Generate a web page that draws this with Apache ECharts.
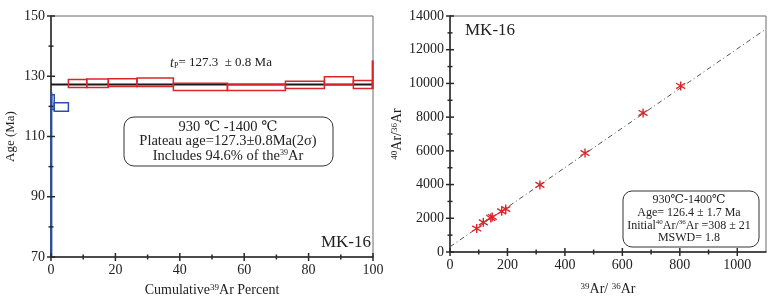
<!DOCTYPE html>
<html>
<head>
<meta charset="utf-8">
<script src="https://cdn.jsdelivr.net/npm/echarts@6/dist/echarts.min.js"></script>
<style>
  html, body { margin: 0; background: #fff; }
  #chart { width: 782px; height: 302px; }
</style>
</head>
<body>
<div id="chart"></div>
<script>
// 坪年龄阶梯: 累计39Ar百分比起止 + 年龄误差上下限(Ma)
const stepStart = [0, 0.2, 1.0, 5.4, 11.1, 17.8, 26.7, 38.0, 54.8, 72.8, 84.9, 93.9, 99.8];
const stepEnd   = [0.2, 1.0, 5.4, 11.1, 17.8, 26.7, 38.0, 54.8, 72.8, 84.9, 93.9, 99.8, 100];
const ageLow    = [40, 119.0, 118.4, 126.3, 126.3, 126.6, 126.6, 125.3, 125.3, 125.9, 127.2, 125.9, 126.0];
const ageHigh   = [124.5, 123.9, 121.2, 128.9, 129.1, 129.2, 129.4, 127.7, 127.3, 128.3, 129.8, 128.6, 135.0];
const inPlateau = [0, 0, 0, 1, 1, 1, 1, 1, 1, 1, 1, 1, 1];
const plateauAge = 127.3;

// 反等时线数据
const ar39ar36 = [93, 116, 142, 147, 180, 194, 313, 470, 672, 803];
const ar40ar36 = [1390, 1760, 2020, 2080, 2410, 2550, 3980, 5870, 8250, 9850];
const isoLineX = [0, 1100];
const isoLineY = [308, 13230];

// 刻度位置 (主刻度带标签)
const pctTicks = [0, 10, 20, 30, 40, 50, 60, 70, 80, 90, 100];
const ageTicks = [70, 80, 90, 100, 110, 120, 130, 140, 150];
const r39Ticks = [0, 100, 200, 300, 400, 500, 600, 700, 800, 900, 1000];
const r40Ticks = [0, 1000, 2000, 3000, 4000, 5000, 6000, 7000, 8000, 9000, 10000, 11000, 12000, 13000, 14000];

const RED = '#d8262b';
const BLUE = '#2b4fa8';
const AXIS = '#2a2a2a';
const SERIF = '"Liberation Serif", "DejaVu Serif", serif';

const chart = echarts.init(document.getElementById('chart'));

const stepData = stepStart.map((s, i) => [s, stepEnd[i], ageLow[i], ageHigh[i], inPlateau[i]]);

function mkAxis(extra, labelStep, labelFrom, labelMax) {
    const base = {
        axisLine: { show: true, lineStyle: { color: AXIS, width: 1.5 } },
        axisTick: { show: false },
        axisLabel: {
            color: '#222', fontFamily: SERIF, fontSize: 14, margin: 6,
            formatter: v => ((v - labelFrom) % labelStep === 0 && v <= labelMax) ? String(v) : ''
        },
        splitLine: { show: false }
    };
    return Object.assign(base, extra);
}

// v6 下轴刻度画不出来, 改用 custom 系列按轴坐标画十字刻度
function tickSeries(xi, yi, values, along, fixed, step, from) {
    return {
        type: 'custom', xAxisIndex: xi, yAxisIndex: yi, z: 5, silent: true,
        data: values.map(v => along === 'x' ? [v, fixed] : [fixed, v]),
        renderItem: function (params, api) {
            const p = api.coord([api.value(0), api.value(1)]);
            const v = along === 'x' ? api.value(0) : api.value(1);
            const len = ((v - from) % step === 0) ? 4 : 2.5;
            const shape = along === 'x'
                ? { x1: p[0], y1: p[1] - len, x2: p[0], y2: p[1] + len }
                : { x1: p[0] - len, y1: p[1], x2: p[0] + len, y2: p[1] };
            return { type: 'line', shape: shape, style: { stroke: AXIS, lineWidth: 1.5 } };
        }
    };
}

const sup = { fontSize: 9, verticalAlign: 'top', fontFamily: SERIF, color: '#222' };

const option = {
    animation: false,
    grid: [
        { left: 51, right: 409, top: 16, bottom: 45, show: true, borderColor: '#6a6a6a', borderWidth: 1 },
        { left: 450, right: 16, top: 16, bottom: 50, show: true, borderColor: '#6a6a6a', borderWidth: 1 }
    ],
    xAxis: [
        mkAxis({
            type: 'value', gridIndex: 0, min: 0, max: 100, interval: 20,
            name: 'Cumulative{s|39}Ar Percent', nameLocation: 'middle', nameGap: 26,
            nameTextStyle: { fontFamily: SERIF, fontSize: 14, color: '#222', rich: { s: sup } }
        }, 20, 0, 100),
        mkAxis({
            type: 'value', gridIndex: 1, min: 0, max: 1100, interval: 200,
            name: '{s|39}Ar/ {s|36}Ar', nameLocation: 'middle', nameGap: 30,
            nameTextStyle: { fontFamily: SERIF, fontSize: 14, color: '#222', rich: { s: sup } }
        }, 200, 0, 1000)
    ],
    yAxis: [
        mkAxis({
            type: 'value', gridIndex: 0, min: 70, max: 150, interval: 20,
            name: 'Age (Ma)', nameLocation: 'middle', nameGap: 34,
            nameTextStyle: { fontFamily: SERIF, fontSize: 13, color: '#222' }
        }, 20, 70, 150),
        mkAxis({
            type: 'value', gridIndex: 1, min: 0, max: 14000, interval: 2000,
            name: '{s|40}Ar/{s|36}Ar', nameLocation: 'middle', nameGap: 46,
            nameTextStyle: { fontFamily: SERIF, fontSize: 14, color: '#222', rich: { s: sup } }
        }, 2000, 0, 14000)
    ],
    series: [
        {
            type: 'line', xAxisIndex: 0, yAxisIndex: 0, symbol: 'none', z: 1,
            lineStyle: { color: '#1a1a1a', width: 2 },
            data: [[0, plateauAge], [100, plateauAge]]
        },
        {
            type: 'custom', xAxisIndex: 0, yAxisIndex: 0, z: 3,
            data: stepData,
            renderItem: function (params, api) {
                const p0 = api.coord([api.value(0), api.value(3)]);
                const p1 = api.coord([api.value(1), api.value(2)]);
                const rect = echarts.graphic.clipRectByRect(
                    { x: p0[0], y: p0[1], width: p1[0] - p0[0], height: p1[1] - p0[1] },
                    { x: params.coordSys.x, y: params.coordSys.y - 20, width: params.coordSys.width, height: params.coordSys.height + 20 }
                );
                if (!rect) return;
                return {
                    type: 'rect', shape: rect,
                    style: { fill: 'none', stroke: api.value(4) ? RED : BLUE, lineWidth: 1.5 }
                };
            }
        },
        {
            type: 'line', xAxisIndex: 1, yAxisIndex: 1, symbol: 'none', z: 1,
            lineStyle: { color: '#555', width: 1, type: [5, 3, 1, 3] },
            data: isoLineX.map((x, i) => [x, isoLineY[i]])
        },
        {
            type: 'scatter', xAxisIndex: 1, yAxisIndex: 1, z: 3,
            symbol: 'path://M0,-5L0,5M-5,-3L5,3M-5,3L5,-3',
            symbolSize: 9,
            itemStyle: { color: 'none', borderColor: RED, borderWidth: 1.4, opacity: 1 },
            data: ar39ar36.map((x, i) => [x, ar40ar36[i]])
        },
        tickSeries(0, 0, pctTicks, 'x', 70, 20, 0),
        tickSeries(0, 0, ageTicks, 'y', 0, 20, 70),
        tickSeries(1, 1, r39Ticks, 'x', 0, 200, 0),
        tickSeries(1, 1, r40Ticks, 'y', 0, 2000, 0)
    ],
    graphic: [
        {
            type: 'text', x: 221, y: 63,
            style: {
                text: '{i|t}{p|P}= 127.3  ± 0.8 Ma', align: 'center', verticalAlign: 'middle',
                fontFamily: SERIF, fontSize: 13, fill: '#222',
                rich: {
                    i: { fontStyle: 'italic', fontFamily: SERIF, fontSize: 14, color: '#222' },
                    p: { fontSize: 8, verticalAlign: 'bottom', fontFamily: SERIF, color: '#222' }
                }
            }
        },
        {
            type: 'rect', shape: { x: 124, y: 117, width: 209, height: 49, r: 10 },
            style: { fill: '#fff', stroke: '#333', lineWidth: 1 }
        },
        {
            type: 'text', x: 228, y: 141.5,
            style: {
                text: '930 ℃ -1400 ℃\nPlateau age=127.3±0.8Ma(2σ)\nIncludes 94.6% of the{s|39}Ar',
                align: 'center', verticalAlign: 'middle', lineHeight: 14.5,
                fontFamily: SERIF, fontSize: 14.5, fill: '#222',
                rich: { s: { fontSize: 8, verticalAlign: 'top', fontFamily: SERIF, color: '#222', lineHeight: 14.5 } }
            }
        },
        {
            type: 'text', x: 346, y: 243,
            style: { text: 'MK-16', align: 'center', verticalAlign: 'middle', fontFamily: SERIF, fontSize: 17, fill: '#222' }
        },
        {
            type: 'text', x: 465, y: 31,
            style: { text: 'MK-16', align: 'left', verticalAlign: 'middle', fontFamily: SERIF, fontSize: 17, fill: '#222' }
        },
        {
            type: 'rect', shape: { x: 623, y: 191, width: 136, height: 56, r: 9 },
            style: { fill: '#fff', stroke: '#333', lineWidth: 1 }
        },
        {
            type: 'text', x: 689, y: 219,
            style: {
                text: '930℃-1400℃\nAge= 126.4 ± 1.7 Ma\nInitial{s|40}Ar/{s|36}Ar =308 ± 21\nMSWD= 1.8',
                align: 'center', verticalAlign: 'middle', lineHeight: 12.7,
                fontFamily: SERIF, fontSize: 12, fill: '#222',
                rich: { s: { fontSize: 7, verticalAlign: 'top', fontFamily: SERIF, color: '#222', lineHeight: 12.7 } }
            }
        }
    ]
};

chart.setOption(option);
</script>
</body>
</html>
